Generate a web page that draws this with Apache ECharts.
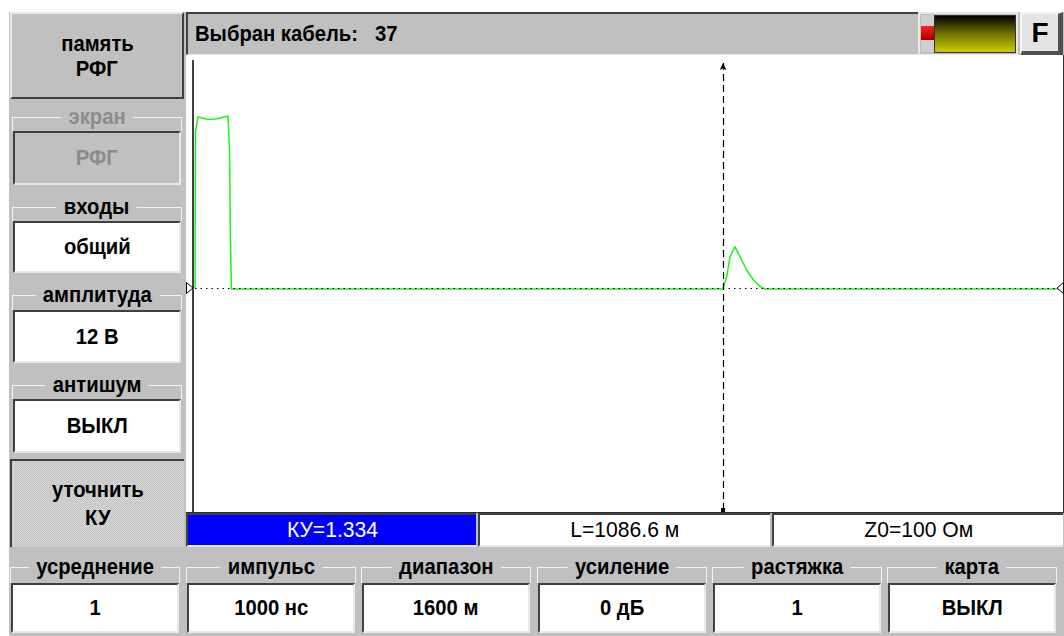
<!DOCTYPE html>
<html><head><meta charset="utf-8">
<script src="https://cdn.jsdelivr.net/npm/echarts@6/dist/echarts.min.js"></script>
<style>
html,body{margin:0;padding:0;background:#fff;width:1064px;height:636px;overflow:hidden;font-family:"Liberation Sans",Arial,sans-serif;}
.a{position:absolute;box-sizing:border-box;}
.flex{display:flex;align-items:center;justify-content:center;text-align:center;}
.raised{border-top:2px solid #e8e8e8;border-left:2px solid #e8e8e8;border-bottom:2px solid #404040;border-right:2px solid #404040;}
.sunken{border-top:2px solid #404040;border-left:2px solid #404040;border-bottom:2px solid #e8e8e8;border-right:2px solid #e8e8e8;}
.frame{border-top:1px solid #f2f2f2;border-left:1px solid #f2f2f2;border-right:1px solid #f2f2f2;}
.lbl{position:absolute;top:-13px;left:0;right:0;text-align:center;font-weight:bold;font-size:22px;line-height:24px;}
.lbl span{background:#c0c0c0;padding:0 8px;}
.val{font-weight:bold;font-size:22px;}
.n{display:inline-block;transform:scaleX(0.92);}
</style></head>
<body>
<div class="a" style="left:9px;top:12px;width:1055px;height:624px;background:#c0c0c0"></div>
<div id="ui"></div>
<div class="a" style="left:186px;top:55px;width:878px;height:458px;background:#fff;border-bottom:1px solid #303030;border-right:1px solid #303030"></div>
<div class="a" style="left:192px;top:60px;width:2px;height:452px;background:#404040"></div>
<div id="chart" class="a" style="left:186px;top:55px;width:877px;height:457px"></div>
<svg class="a" style="left:184px;top:280px" width="12" height="16"><polygon points="2.5,2.5 9,8 2.5,13.5" fill="#fff" stroke="#000" stroke-width="1"/></svg>
<svg class="a" style="left:1054px;top:280px" width="10" height="16"><polygon points="9.5,2.5 3,8 9.5,13.5" fill="#fff" stroke="#000" stroke-width="1"/></svg>
<script>
// ---- data ----
const headerLabel = "Выбран кабель:";
const cableNo = "37";
const leftLabels = ["экран", "входы", "амплитуда", "антишум"];
const leftValues = ["РФГ", "общий", "12 В", "ВЫКЛ"];
const bottomLabels = ["усреднение", "импульс", "диапазон", "усиление", "растяжка", "карта"];
const bottomValues = ["1", "1000 нс", "1600 м", "0 дБ", "1", "ВЫКЛ"];
const statusTexts = ["КУ=1.334", "L=1086.6 м", "Z0=100 Ом"];
const cursorM = 1086.6;
const distM = [0, 1, 6, 23, 33, 47, 68, 71, 73, 75, 78, 400, 800, 1086, 1087, 1094, 1101, 1111, 1121.5, 1135, 1149, 1163, 1173, 1400, 1640, 1642, 1644, 1784];
const amp   = [0, 0.918, 1.006, 0.994, 0.991, 0.997, 1.012, 0.81, 0.265, -0.006, -0.006, -0.006, -0.006, -0.006, -0.006, 0.066, 0.184, 0.243, 0.184, 0.106, 0.047, 0.008, -0.006, -0.006, -0.006, 0.004, -0.006, -0.006];

// ---- UI ----
const ui = document.getElementById('ui');
function add(html){ ui.insertAdjacentHTML('beforeend', html); }
add(`<div class="a raised flex" style="left:10px;top:12px;width:174px;height:87px;flex-direction:column"><div class="val" style="line-height:25px"><span class="n">память</span><br><span class="n">РФГ</span></div></div>`);
const leftFrameY = [117, 207, 295, 385];
const leftBoxY = [131, 221, 310, 399];
const leftBoxH = [54, 52, 53, 54];
leftLabels.forEach((l, i) => {
  const dis = i === 0;
  const col = dis ? '#8c8c8c' : '#000';
  add(`<div class="a frame" style="left:12px;top:${leftFrameY[i]}px;width:170px;height:${leftBoxY[i]-leftFrameY[i]}px"><div class="lbl" style="color:${col}"><span class="n">${l}</span></div></div>`);
  add(`<div class="a sunken flex val" style="left:13px;top:${leftBoxY[i]}px;width:168px;height:${leftBoxH[i]}px;background:${dis?'#c0c0c0':'#fff'};color:${col}"><span class="n">${leftValues[i]}</span></div>`);
});
add(`<div class="a flex" style="left:10px;top:459px;width:174px;height:88px;border-top:2px solid #404040;border-left:2px solid #404040;background:repeating-conic-gradient(#c4c4c4 0 25%,#d6d6d6 0 50%) 0 0/2px 2px"><div class="val" style="line-height:28px"><span class="n">уточнить</span><br><span class="n">КУ</span></div></div>`);
const bx = [10, 186, 361, 537, 712, 887];
bottomLabels.forEach((l, i) => {
  add(`<div class="a frame" style="left:${bx[i]}px;top:567px;width:170px;height:16px"><div class="lbl"><span class="n">${l}</span></div></div>`);
  add(`<div class="a sunken flex val" style="left:${bx[i]+1}px;top:583px;width:168px;height:50px;background:#fff"><span class="n">${bottomValues[i]}</span></div>`);
});
// header
add(`<div class="a" style="left:186px;top:12px;width:732px;height:43px;border-top:2px solid #404040;border-left:2px solid #404040;border-bottom:1px solid #e8e8e8;background:#c0c0c0"><div class="val" style="position:absolute;left:7px;top:7px;white-space:pre;transform:scaleX(0.92);transform-origin:0 0">${headerLabel}   ${cableNo}</div></div>`);
// indicator
add(`<div class="a" style="left:918px;top:12px;width:100px;height:44px;border:2px solid #e8e8e8;background:#c0c0c0"></div>`);
add(`<div class="a" style="left:921px;top:15px;width:13px;height:37px;background:#cfcfcf"></div>`);
add(`<div class="a" style="left:921px;top:26px;width:14px;height:14px;background:linear-gradient(#ff2020,#a00000)"></div>`);
add(`<div class="a" style="left:934px;top:15px;width:82px;height:38px;border:1px solid #303030;background:linear-gradient(#000 0%,#6a6a00 45%,#cccc00 100%)"></div>`);
add(`<div class="a flex" style="left:1020px;top:12px;width:43px;height:44px;background:#e4e4e4;border-top:2px solid #f4f4f4;border-left:2px solid #f4f4f4;border-right:5px solid #505050;border-bottom:5px solid #505050;font-weight:bold;font-size:28px">F</div>`);
// status row
const sx = [186, 478, 772], sw = [290, 292, 291];
statusTexts.forEach((t, i) => {
  const blue = i === 0;
  add(`<div class="a flex" style="left:${sx[i]}px;top:513px;width:${sw[i]}px;height:34px;border-top:2px solid #404040;border-left:2px solid #404040;border-bottom:2px solid #e8e8e8;background:${blue?'#0000ff':'#fff'};color:${blue?'#fff':'#000'};font-size:22px"><span class="n" style="transform:scaleX(0.96)">${t}</span></div>`);
});

// ---- chart ----
const chart = echarts.init(document.getElementById('chart'), null, {renderer: 'canvas'});
const pts = distM.map((d, i) => [d, amp[i]]);
chart.setOption({
  animation: false,
  grid: {left: 9, right: 1, top: 0, bottom: 0},
  xAxis: {type: 'value', min: 0, max: 1784, show: false},
  yAxis: {type: 'value', min: -1.3176, max: 1.3706, show: false},
  series: [{
    type: 'line', data: pts, showSymbol: false, silent: true,
    lineStyle: {color: '#1ef01e', width: 1.5},
    markLine: {
      silent: true, animation: false, label: {show: false},
      symbol: 'none',
      data: [
        {yAxis: 0, lineStyle: {color: '#000', width: 1, type: [1.5, 4]}},
        [
          {coord: [cursorM, -1.306], symbol: 'rect', symbolSize: 4, lineStyle: {color: '#000', width: 1.2, type: [7, 4]}},
          {coord: [cursorM, 1.3235], symbol: 'arrow', symbolSize: [5, 7]}
        ]
      ]
    }
  }]
});
</script>
</body></html>
